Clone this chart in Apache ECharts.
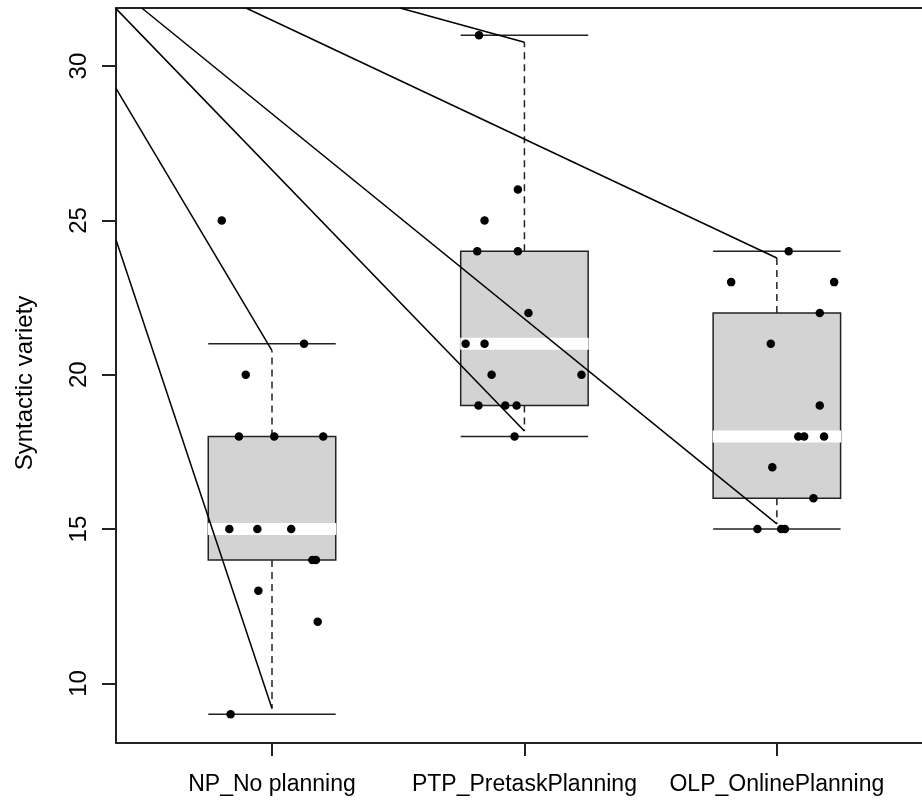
<!DOCTYPE html>
<html>
<head>
<meta charset="utf-8">
<script src="https://cdn.jsdelivr.net/npm/echarts@6/dist/echarts.min.js"></script>
<style>
  html, body { margin: 0; padding: 0; background: #fff; }
  #chart { width: 922px; height: 805px; }
</style>
</head>
<body>
<div id="chart"></div>
<script>
// box statistics per group
const groups = ['NP_No planning', 'PTP_PretaskPlanning', 'OLP_OnlinePlanning'];
const q1 = [14, 19, 16];
const medians = [15, 21, 18];
const q3 = [18, 24, 22];
const whiskerLow = [9, 18, 15];
const whiskerHigh = [21, 31, 24];
const dashLow = [9.19, 18.18, 15.17];
const dashHigh = [20.78, 30.77, 23.78];

// jittered observations (jitter = horizontal offset from group centre)
const npValues = [25, 21, 20, 18, 18, 18, 15, 15, 15, 14, 14, 13, 12, 9];
const npJitter = [-0.199, 0.127, -0.104, -0.131, 0.009, 0.203, -0.169, -0.058, 0.076, 0.160, 0.174, -0.054, 0.181, -0.164];
const ptpValues = [31, 26, 25, 24, 24, 22, 21, 21, 20, 20, 19, 19, 19, 18];
const ptpJitter = [-0.180, -0.026, -0.158, -0.187, -0.026, 0.016, -0.233, -0.158, -0.130, 0.226, -0.182, -0.076, -0.031, -0.039];
const olpValues = [24, 23, 23, 22, 21, 19, 18, 18, 18, 17, 16, 15, 15, 15];
const olpJitter = [0.047, -0.181, 0.227, 0.170, -0.024, 0.170, 0.085, 0.108, 0.187, -0.018, 0.145, -0.077, 0.017, 0.032];

// stray diagonal lines, start -> end
const lineStartX = [0.382, 0.382, 0.382, 0.484, 0.897, 1.507];
const lineStartY = [24.37, 29.28, 31.86, 31.88, 31.88, 31.88];
const lineEndX = [1, 1, 2, 3, 3, 2];
const lineEndY = [9.19, 20.78, 18.18, 15.17, 23.78, 30.77];

const yTicks = [10, 15, 20, 25, 30];
const xTicks = [1, 2, 3];

const FONT = '"Liberation Sans", Arial, Helvetica, sans-serif';
const INK = '#222';
const HALF = 0.2525;

const chart = echarts.init(document.getElementById('chart'));

const boxData = groups.map((g, i) => [i + 1, whiskerLow[i], q1[i], medians[i], q3[i], whiskerHigh[i], dashLow[i], dashHigh[i]]);

const points = [];
[[npValues, npJitter], [ptpValues, ptpJitter], [olpValues, olpJitter]].forEach(([vals, jit], gi) => {
  vals.forEach((v, k) => points.push([gi + 1 + jit[k], v]));
});

const lineSeries = lineStartX.map((x0, i) => ({
  type: 'line',
  data: [[x0, lineStartY[i]], [lineEndX[i], lineEndY[i]]],
  symbol: 'none',
  lineStyle: { color: '#000', width: 1.5 },
  silent: true,
  z: 3,
}));

function renderBox(params, api) {
  const c = api.value(0);
  const [xl, yq3] = api.coord([c - HALF, api.value(4)]);
  const [xr, yq1] = api.coord([c + HALF, api.value(2)]);
  const yMed = api.coord([c, api.value(3)])[1];
  const yLo = api.coord([c, api.value(1)])[1];
  const yHi = api.coord([c, api.value(5)])[1];
  const yDLo = api.coord([c, api.value(6)])[1];
  const yDHi = api.coord([c, api.value(7)])[1];
  const xc = api.coord([c, 0])[0];
  const stroke = { stroke: INK, lineWidth: 1.5, fill: null };
  const dashed = { stroke: INK, lineWidth: 1.5, lineDash: [7, 5] };
  return {
    type: 'group',
    children: [
      { type: 'line', shape: { x1: xc, y1: yq3, x2: xc, y2: yDHi }, style: dashed },
      { type: 'line', shape: { x1: xc, y1: yq1, x2: xc, y2: yDLo }, style: dashed },
      { type: 'line', shape: { x1: xl, y1: yHi, x2: xr, y2: yHi }, style: stroke },
      { type: 'line', shape: { x1: xl, y1: yLo, x2: xr, y2: yLo }, style: stroke },
      { type: 'rect', shape: { x: xl, y: yq3, width: xr - xl, height: yq1 - yq3 },
        style: { fill: '#d3d3d3', stroke: INK, lineWidth: 1.5 } },
      { type: 'rect', shape: { x: xl - 0.5, y: yMed - 6, width: xr - xl + 1, height: 12 },
        style: { fill: '#fff' } },
    ],
  };
}

const option = {
  animation: false,
  backgroundColor: '#fff',
  grid: { left: 116, right: 0, top: 8, bottom: 62, outerBoundsMode: 'none' },
  xAxis: [
    {
      type: 'value',
      min: 0.382,
      max: 3.575,
      position: 'bottom',
      axisLine: { show: true, onZero: false, lineStyle: { color: INK, width: 2 } },
      axisTick: { show: true, customValues: xTicks, length: 13, lineStyle: { color: INK, width: 2 } },
      axisLabel: {
        show: true,
        customValues: xTicks,
        margin: 30,
        fontSize: 23,
        fontFamily: FONT,
        color: '#000',
        formatter: v => groups[Math.round(v) - 1],
      },
      splitLine: { show: false },
    },
    {
      type: 'value',
      min: 0.382,
      max: 3.575,
      position: 'top',
      axisLine: { show: true, onZero: false, lineStyle: { color: INK, width: 2 } },
      axisTick: { show: false },
      axisLabel: { show: false },
      splitLine: { show: false },
    },
  ],
  yAxis: {
    type: 'value',
    min: 8.07,
    max: 31.88,
    axisLine: { show: true, onZero: false, lineStyle: { color: INK, width: 2 } },
    axisTick: { show: true, customValues: yTicks, length: 14, lineStyle: { color: INK, width: 2 } },
    axisLabel: {
      show: true,
      customValues: yTicks,
      rotate: 90,
      margin: 25,
      fontSize: 24,
      fontFamily: FONT,
      color: '#000',
    },
    splitLine: { show: false },
  },
  graphic: [
    {
      type: 'text',
      x: 25,
      y: 383,
      rotation: Math.PI / 2,
      style: {
        text: 'Syntactic variety',
        font: '24px ' + FONT,
        fill: '#000',
        textAlign: 'center',
        textVerticalAlign: 'middle',
      },
    },
  ],
  series: [
    {
      type: 'custom',
      renderItem: renderBox,
      data: boxData,
      encode: { x: 0, y: [1, 2, 3, 4, 5] },
      clip: true,
      silent: true,
      z: 2,
    },
    ...lineSeries,
    {
      type: 'scatter',
      data: points,
      symbol: 'circle',
      symbolSize: 8.5,
      itemStyle: { color: '#000', opacity: 1 },
      silent: true,
      z: 4,
    },
  ],
};

chart.setOption(option);
</script>
</body>
</html>
